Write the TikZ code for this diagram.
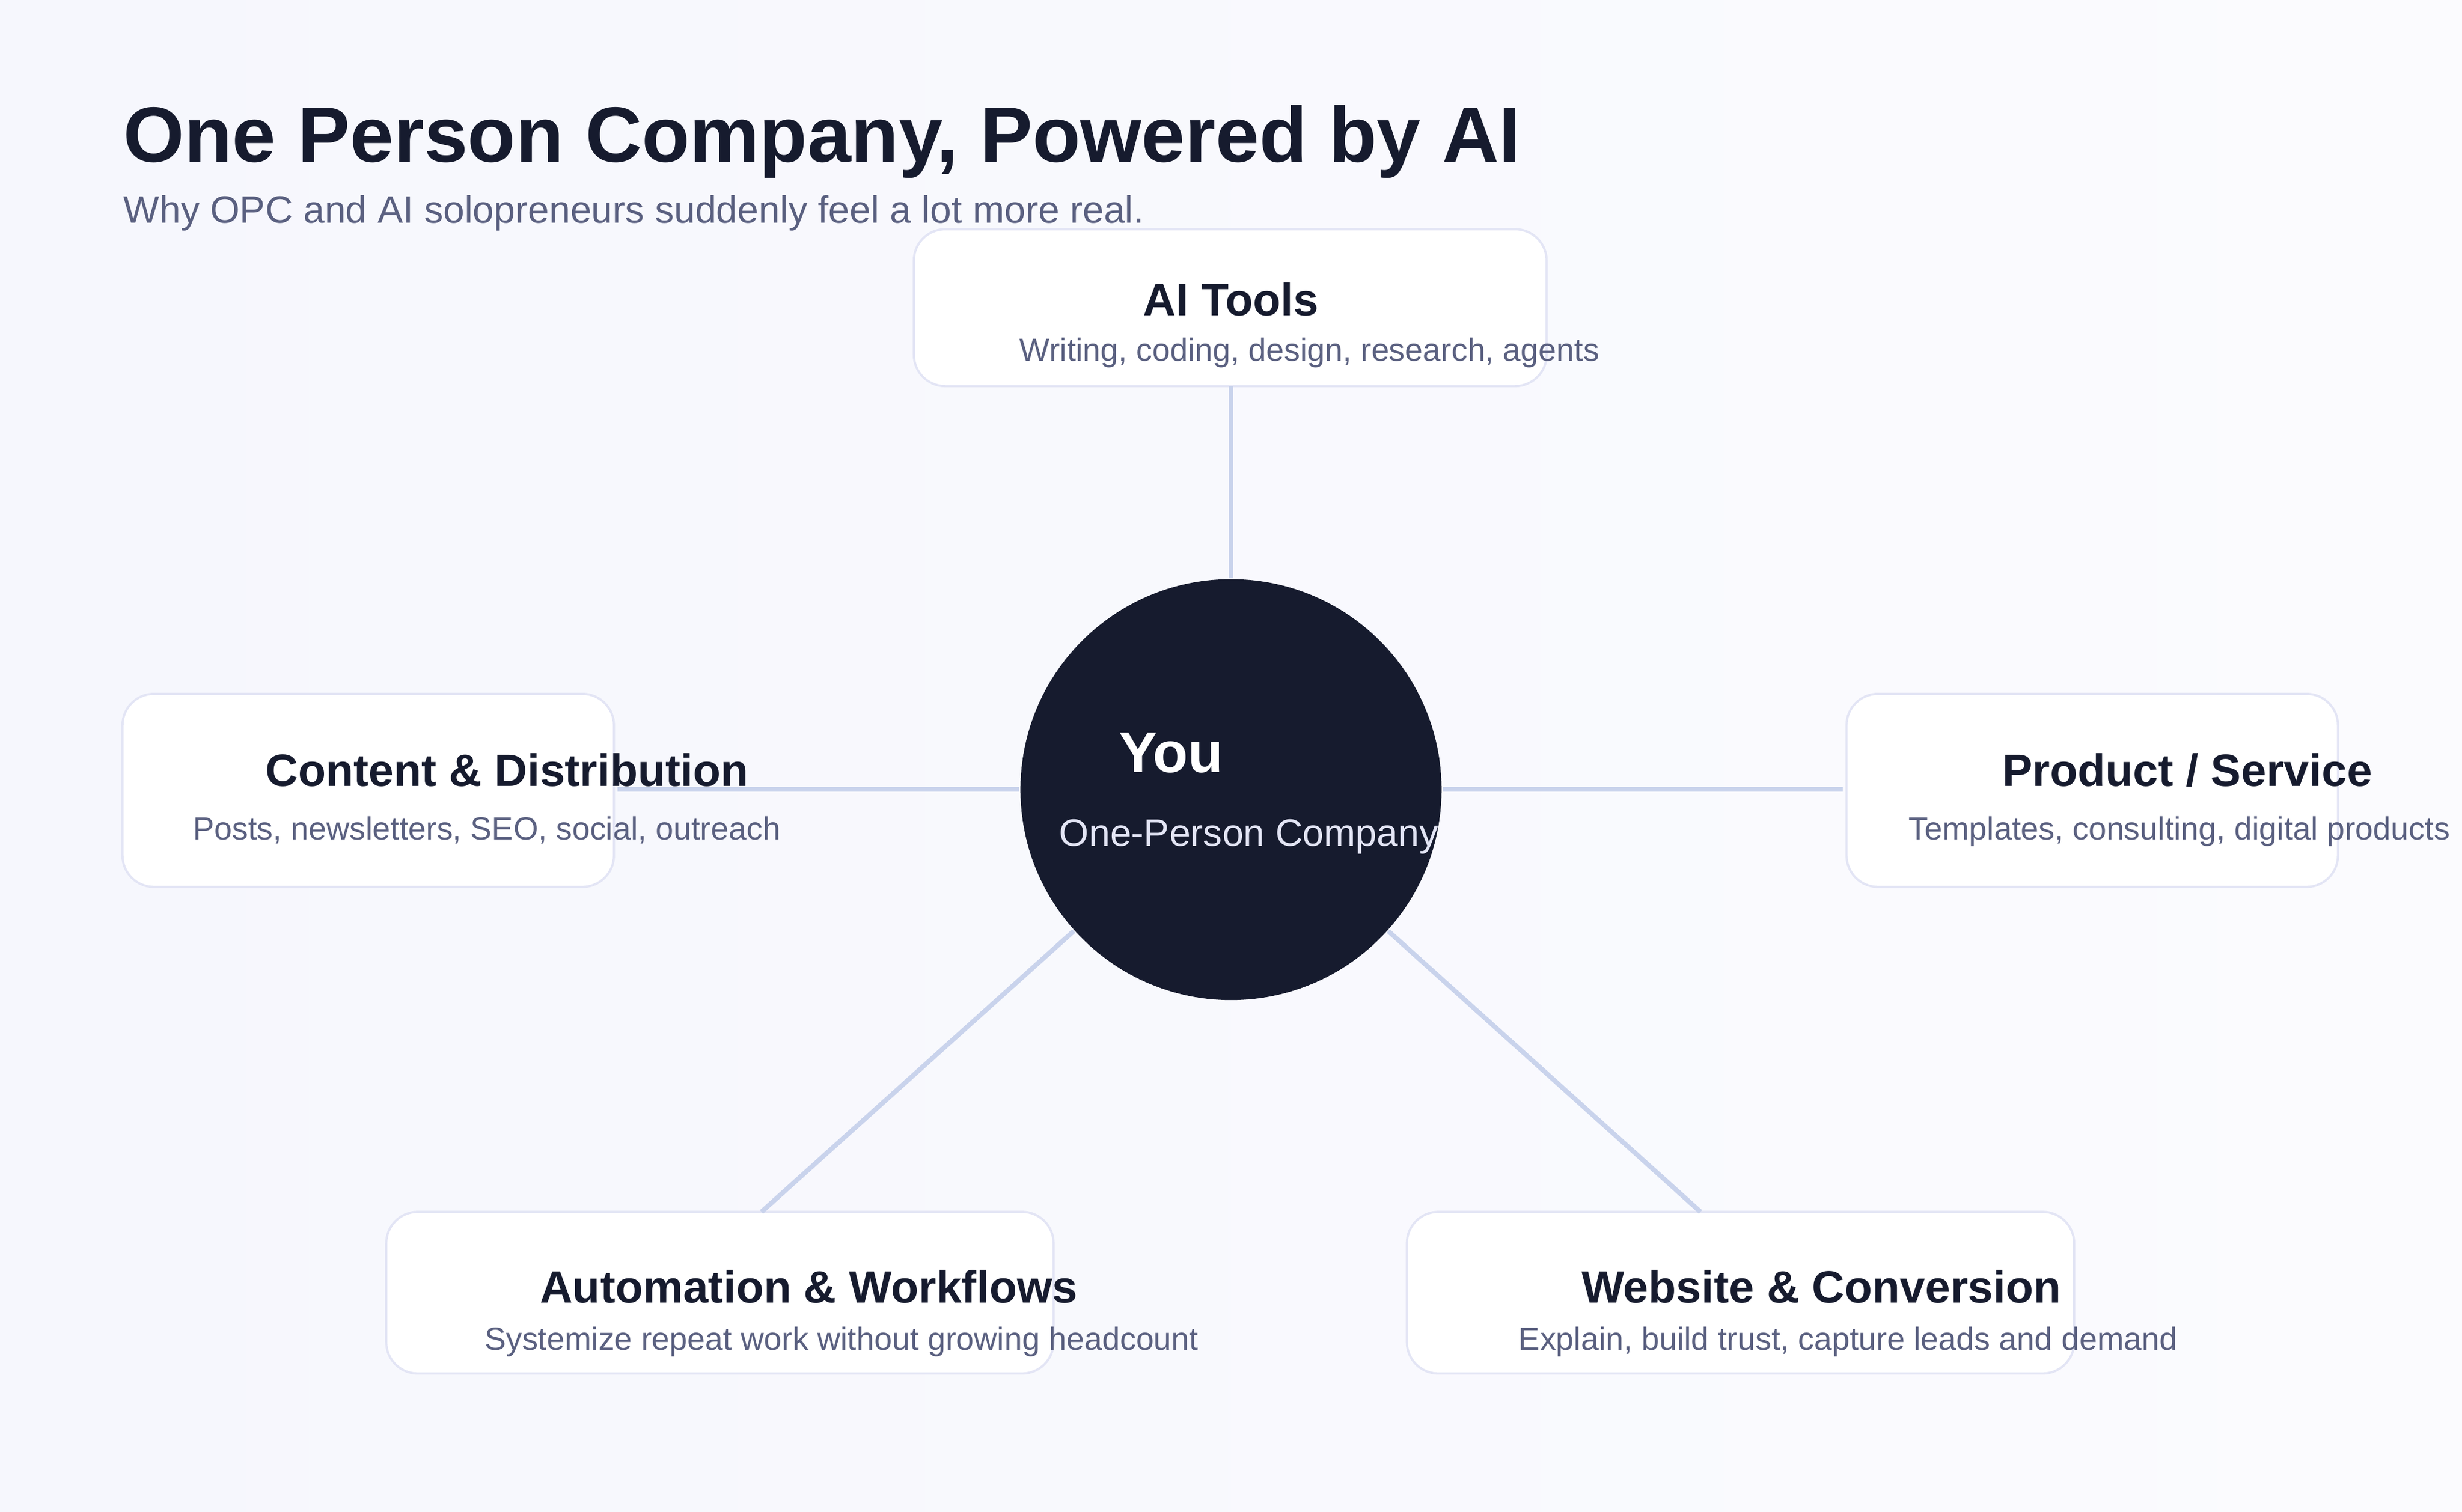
\documentclass[tikz,border=0pt]{standalone}
\usepackage{fontspec}
\setmainfont{Liberation Sans}
\definecolor{ink}{HTML}{161B2E}
\definecolor{sub}{HTML}{5A6080}
\definecolor{edge}{HTML}{C9D3EC}
\definecolor{bord}{HTML}{E3E5F5}
\definecolor{bgA}{HTML}{F6F7FD}
\definecolor{bgB}{HTML}{FBFBFE}
\begin{document}
\begin{tikzpicture}[x=0.01cm,y=-0.01cm,
  card/.style={draw=bord,fill=white,rounded corners=0.2cm,line width=0.4pt},
  ttl/.style={font=\fontsize{8.2}{9}\selectfont\bfseries,text=ink,inner sep=0},
  desc/.style={font=\fontsize{5.8}{7}\selectfont,text=sub,inner sep=0},
  link/.style={draw=edge,line width=0.85pt}]
\shade[left color=bgA,right color=bgB] (0,0) rectangle (1568,963);
\useasboundingbox (0,0) rectangle (1568,963);
\node[anchor=base west,inner sep=0,font=\fontsize{14.2}{16}\selectfont\bfseries,text=ink] (title) at (78,103) {One Person Company, Powered by AI};
\node[anchor=base west,inner sep=0,font=\fontsize{6.9}{8}\selectfont,text=sub] (subtitle) at (78,142) {Why OPC and AI solopreneurs suddenly feel a lot more real.};
% boxes
\path[card] (582,146) rectangle (985,246) coordinate (aiC);
\node[inner sep=0] (ai) at (784,196) {};
\path[card] (78,442) rectangle (391,565);
\node[inner sep=0] (cont) at (391,503) {};
\path[card] (1176,442) rectangle (1489,565);
\node[inner sep=0] (prod) at (1176,503) {};
\path[card] (246,772) rectangle (671,875);
\coordinate (auto) at (485,772);
\path[card] (896,772) rectangle (1321,875);
\coordinate (web) at (1083,772);
\coordinate (aitop) at (784,246);
% center
\node[circle,fill=ink,minimum size=2.68cm,inner sep=0] (you) at (784,503) {};
\draw[link] (you) -- (aitop);
\draw[link] (you) -- (cont);
\draw[link] (you) -- (prod);
\draw[link] (you) -- (auto);
\draw[link] (you) -- (web);
\node[anchor=base west,inner sep=0,font=\fontsize{10.4}{12}\selectfont\bfseries,text=white] (youT) at (712,492) {You};
\node[anchor=base west,inner sep=0,font=\fontsize{6.9}{8}\selectfont,text=bord] (youS) at (674,539) {One-Person Company};
% texts
\node[ttl,anchor=base] (t1) at (784,201) {AI Tools};
\node[desc,anchor=base] (d1) at (834,230) {Writing, coding, design, research, agents};
\node[ttl,anchor=base] (t2) at (323,501) {Content \& Distribution};
\node[desc,anchor=base] (d2) at (310,535) {Posts, newsletters, SEO, social, outreach};
\node[ttl,anchor=base] (t3) at (1393,501) {Product / Service};
\node[desc,anchor=base] (d3) at (1388,535) {Templates, consulting, digital products};
\node[ttl,anchor=base] (t4) at (515,830) {Automation \& Workflows};
\node[desc,anchor=base] (d4) at (536,860) {Systemize repeat work without growing headcount};
\node[ttl,anchor=base] (t5) at (1160,830) {Website \& Conversion};
\node[desc,anchor=base] (d5) at (1177,860) {Explain, build trust, capture leads and demand};
\end{tikzpicture}
\end{document}
